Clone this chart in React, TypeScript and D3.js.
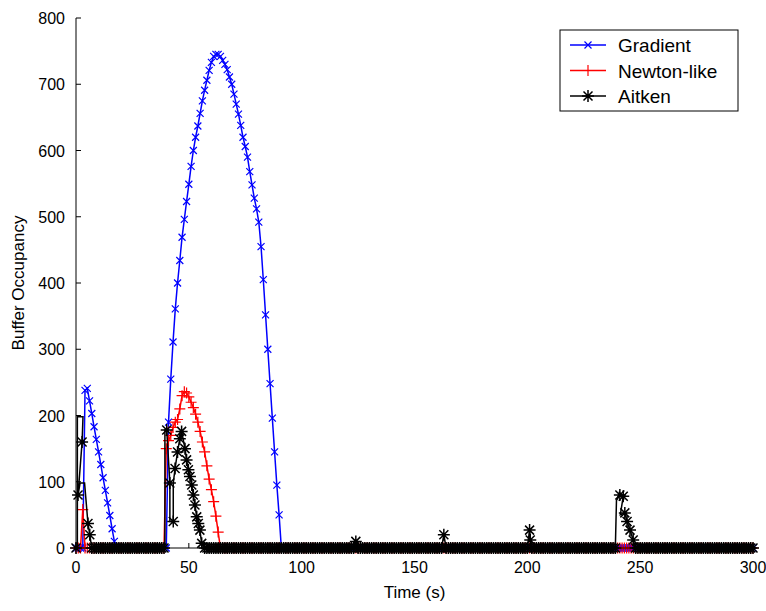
import React from 'react';
import * as d3 from 'd3';

// ---------- DATA ----------
const TIME_MAX = 300;
const xTickValues = [0, 50, 100, 150, 200, 250, 300];
const yTickValues = [0, 100, 200, 300, 400, 500, 600, 700, 800];
const seriesNames = ['Gradient', 'Newton-like', 'Aitken'];

// Gradient: non-zero bursts (start second + one value per second), zero elsewhere
const gradientBurst1Start = 4;
const gradientBurst1 = [238, 241, 222, 203, 183, 164, 145, 126, 106, 87, 68, 49, 29, 10];
const gradientBurst2Start = 41;
const gradientBurst2 = [190, 255, 311, 361, 400, 434, 469, 496, 523, 549, 576, 600, 620, 637, 656, 675,
  691, 706, 721, 733, 742, 745, 745, 742, 736, 730, 722, 711, 700, 685, 670, 655, 638, 620, 606, 590,
  568, 548, 528, 512, 492, 455, 405, 352, 300, 248, 196, 145, 95, 50];

// Newton-like
const newtonBurst1Start = 3;
const newtonBurst1 = [58];
const newtonBurst2Start = 40;
const newtonBurst2 = [150, 162, 170, 182, 190, 194, 210, 230, 236, 234, 228, 220, 212, 202, 190, 176,
  160, 145, 124, 104, 88, 70, 48, 24];

// Aitken: irregular excursions [time, value, sampled(1) or corner(0)]; zero at every other second
const aitkenEarly = [[0, 0, 1], [0.6, 0, 0], [0.6, 198, 0], [3.1, 198, 0], [2.7, 160, 1], [0.9, 80, 1],
  [1.8, 98, 0], [3.8, 98, 0], [5.3, 37, 1], [6.1, 20, 1], [7, 0, 1]];
const aitkenMiddle = [[39, 0, 1], [39.4, 0, 0], [39.4, 178, 0], [40.2, 178, 1], [41.6, 98, 1], [41.6, 40, 0],
  [43.1, 40, 1], [43.1, 98, 0], [43.9, 120, 1], [45, 145, 1], [46, 165, 1], [46.8, 176, 1], [48.3, 150, 1],
  [49, 133, 1], [49.8, 118, 1], [50.5, 108, 1], [51.3, 95, 1], [52, 80, 1], [52.7, 65, 1], [53.5, 47, 1],
  [54.2, 37, 1], [54.9, 27, 1], [55.7, 7, 1], [57, 0, 1]];
const aitkenSpike124 = [[123, 0, 1], [124, 10, 1], [125, 0, 1]];
const aitkenSpike163 = [[162, 0, 1], [163, 20, 1], [164, 0, 1]];
const aitkenSpike201 = [[200, 0, 1], [201, 27, 1], [201.3, 12, 1], [202, 0, 1]];
const aitkenSpike241 = [[239, 0, 1], [239.5, 72, 0], [241, 80, 1], [242.5, 78, 1], [241.2, 50, 0],
  [243.2, 53, 1], [244.2, 40, 1], [245.5, 27, 1], [246.9, 12, 1], [248, 0, 1]];

// ---------- BUILD SERIES ----------
type Pt = { t: number; v: number; m: boolean };

function fromBursts(bursts: [number, number[]][]): Pt[] {
  const pts: Pt[] = [];
  for (let t = 0; t <= TIME_MAX; t++) {
    let v = 0;
    for (const [s, vals] of bursts) {
      if (t >= s && t < s + vals.length) v = vals[t - s];
    }
    pts.push({ t, v, m: true });
  }
  return pts;
}

function fromSegments(segs: number[][][]): Pt[] {
  const pts: Pt[] = [];
  const sorted = [...segs].sort((a, b) => a[0][0] - b[0][0]);
  let t = 0;
  for (const seg of sorted) {
    const s = seg[0][0];
    const e = seg[seg.length - 1][0];
    for (; t < s; t++) pts.push({ t, v: 0, m: true });
    for (const p of seg) pts.push({ t: p[0], v: p[1], m: p[2] === 1 });
    t = Math.floor(e) + 1;
  }
  for (; t <= TIME_MAX; t++) pts.push({ t, v: 0, m: true });
  return pts;
}

const gradient = fromBursts([[gradientBurst1Start, gradientBurst1], [gradientBurst2Start, gradientBurst2]]);
const newton = fromBursts([[newtonBurst1Start, newtonBurst1], [newtonBurst2Start, newtonBurst2]]);
const aitken = fromSegments([aitkenEarly, aitkenMiddle, aitkenSpike124, aitkenSpike163, aitkenSpike201, aitkenSpike241]);

// ---------- LAYOUT ----------
const W = 766, H = 611;
const L = 76, R = 753, T = 18, B = 548;
const FONT = '"Liberation Sans", Arial, sans-serif';

const xMarker = (r: number) => `M${-r},${-r}L${r},${r}M${-r},${r}L${r},${-r}`;
const plusMarker = (r: number) => `M${-r},0L${r},0M0,${-r}L0,${r}`;
const starMarker = (r: number, d: number) => plusMarker(r) + xMarker(d);

const styles = [
  { color: '#0000ff', marker: xMarker(3.5), lw: 1.5, mw: 1.2 },
  { color: '#ff0000', marker: plusMarker(5.5), lw: 1.5, mw: 1.2 },
  { color: '#000000', marker: starMarker(6, 4.5), lw: 1.5, mw: 1.5 },
];

export default function App() {
  const x = d3.scaleLinear().domain([0, TIME_MAX]).range([L, R]);
  const y = d3.scaleLinear().domain([0, 800]).range([B, T]);
  const line = d3.line<Pt>().x(d => x(d.t)).y(d => y(d.v));
  const data = [gradient, newton, aitken];

  return (
    <svg width={W} height={H} style={{ position: 'absolute', left: 0, top: 0, background: '#fff' }}
      fontFamily={FONT}>
      <rect x={0} y={0} width={W} height={H} fill="#fff" />
      {data.map((pts, i) => (
        <g key={i} stroke={styles[i].color} fill="none">
          <path d={line(pts) || ''} strokeWidth={styles[i].lw} />
          {pts.filter(p => p.m).map((p, j) => (
            <path key={j} d={styles[i].marker} transform={`translate(${x(p.t)},${y(p.v)})`} strokeWidth={styles[i].mw} />
          ))}
        </g>
      ))}
      {/* axes */}
      <g stroke="#000" strokeWidth={1} fill="none">
        <line x1={L} y1={T} x2={L} y2={B} />
        <line x1={L} y1={B} x2={R} y2={B} />
        {yTickValues.map(v => <line key={'yt' + v} x1={L} x2={L + 5} y1={y(v)} y2={y(v)} />)}
        {xTickValues.map(v => <line key={'xt' + v} x1={x(v)} x2={x(v)} y1={B} y2={B - 5} />)}
      </g>
      <g fontSize={16} fill="#000">
        {yTickValues.map(v => (
          <text key={'yl' + v} x={L - 11} y={y(v) + 6} textAnchor="end">{v}</text>
        ))}
        {xTickValues.map(v => (
          <text key={'xl' + v} x={x(v)} y={B + 25} textAnchor="middle">{v}</text>
        ))}
      </g>
      <text x={(L + R) / 2} y={598} fontSize={17} textAnchor="middle">Time (s)</text>
      <text transform={`translate(24,${(T + B) / 2}) rotate(-90)`} fontSize={17} textAnchor="middle">Buffer Occupancy</text>
      {/* legend */}
      <g>
        <rect x={560} y={30} width={178} height={81} fill="#fff" stroke="#000" strokeWidth={1} />
        {seriesNames.map((name, i) => {
          const ly = 45 + i * 25.5;
          return (
            <g key={name}>
              <line x1={570} x2={606} y1={ly} y2={ly} stroke={styles[i].color} strokeWidth={styles[i].lw} />
              <path d={styles[i].marker} transform={`translate(588,${ly})`} stroke={styles[i].color} fill="none" strokeWidth={styles[i].mw} />
              <text x={618} y={ly + 7} fontSize={19} fill="#000">{name}</text>
            </g>
          );
        })}
      </g>
    </svg>
  );
}
